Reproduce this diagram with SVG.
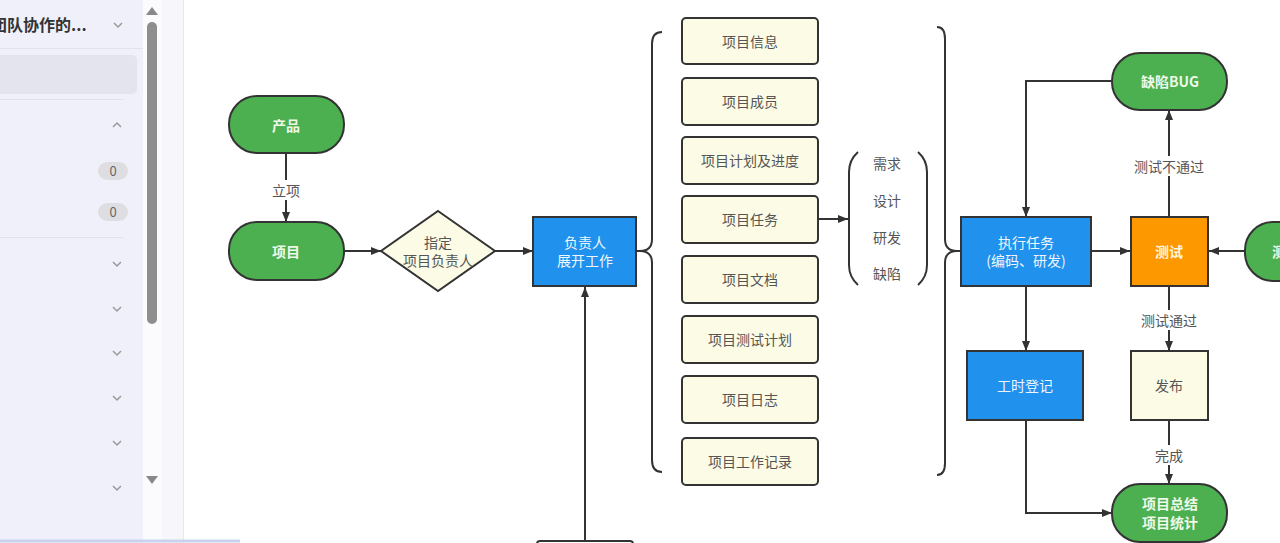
<svg xmlns="http://www.w3.org/2000/svg" width="1280" height="543" viewBox="0 0 1280 543">
<defs>
<marker id="arr" markerWidth="10" markerHeight="8" refX="10" refY="4" orient="auto" markerUnits="userSpaceOnUse">
<path d="M0,0 L10,4 L0,8 z" fill="#333"/>
</marker>
<style>
.t{font-family:"Noto Sans CJK SC","Noto Sans",sans-serif;font-size:14px;text-anchor:middle;dominant-baseline:central}
.green{fill:#4caf50;stroke:#333;stroke-width:2}
.blue{fill:#2091ec;stroke:#333;stroke-width:2}
.cream{fill:#fcfce6;stroke:#333;stroke-width:2}
.orange{fill:#fe9800;stroke:#333;stroke-width:2}
.wt{fill:#eef9e8;font-weight:bold}
.bt{fill:#eef6ff}
.dt{fill:#555}
.lbl{fill:#555}
.edge{stroke:#333;stroke-width:2;fill:none}
.brace{stroke:#333;stroke-width:2;fill:none}
.chev{stroke:#999;stroke-width:1.5;fill:none}
.sb{font-family:"Noto Sans CJK SC","Noto Sans",sans-serif}
</style>
</defs>
<rect x="0" y="0" width="1280" height="543" fill="#ffffff"/>
<g id="sidebar">
<rect x="0" y="0" width="143" height="543" fill="#f0f0fa"/>
<rect x="143" y="0" width="19" height="543" fill="#fbfbfd"/>
<rect x="162" y="0" width="21" height="543" fill="#f6f6fb"/>
<line x1="183.5" y1="0" x2="183.5" y2="543" stroke="#e6e6ee" stroke-width="1"/>
<text class="sb" x="-9" y="31" font-size="16" font-weight="bold" fill="#333">团队协作的...</text>
<path class="chev" d="M114,23 L118,27 L122,23"/>
<line x1="0" y1="48.5" x2="143" y2="48.5" stroke="#e2e2ea"/>
<rect x="-6" y="55" width="143" height="39" rx="5" fill="#e4e4ee"/>
<line x1="0" y1="99.5" x2="123" y2="99.5" stroke="#e2e2ea"/>
<path class="chev" d="M113,127 L117,123 L121,127"/>
<rect x="98" y="162" width="30" height="18" rx="9" fill="#dedee2"/>
<text class="sb" x="113" y="176" font-size="13" fill="#666" text-anchor="middle">0</text>
<rect x="98" y="203" width="30" height="18" rx="9" fill="#dedee2"/>
<text class="sb" x="113" y="217" font-size="13" fill="#666" text-anchor="middle">0</text>
<line x1="0" y1="237.5" x2="123" y2="237.5" stroke="#e2e2ea"/>
<path class="chev" d="M113,262 L117,266 L121,262"/>
<path class="chev" d="M113,307 L117,311 L121,307"/>
<path class="chev" d="M113,351 L117,355 L121,351"/>
<path class="chev" d="M113,396 L117,400 L121,396"/>
<path class="chev" d="M113,441 L117,445 L121,441"/>
<path class="chev" d="M113,486 L117,490 L121,486"/>
<path d="M146,15 L152,7 L158,15 z" fill="#888"/>
<rect x="147" y="22" width="10" height="302" rx="5" fill="#8e8e8e"/>
<path d="M146,476 L152,484 L158,476 z" fill="#888"/>
<line x1="0" y1="541" x2="240" y2="541" stroke="#c9d3ee" stroke-width="3"/>
</g>
<g id="connectors">
<path class="edge" d="M286,153 L286,222" marker-end="url(#arr)"/>
<path class="edge" d="M344,251 L381,251" marker-end="url(#arr)"/>
<path class="edge" d="M495,251 L533,251" marker-end="url(#arr)"/>
<path class="edge" d="M585,541 L585,287" marker-end="url(#arr)"/>
<path class="edge" d="M818,219 L848,219" marker-end="url(#arr)"/>
<path class="edge" d="M1091,251 L1130,251" marker-end="url(#arr)"/>
<path class="edge" d="M1245,251 L1209,251" marker-end="url(#arr)"/>
<path class="edge" d="M1169,217 L1169,110" marker-end="url(#arr)"/>
<path class="edge" d="M1112,81 L1026,81 L1026,217" marker-end="url(#arr)"/>
<path class="edge" d="M1026,286 L1026,351" marker-end="url(#arr)"/>
<path class="edge" d="M1169,286 L1169,351" marker-end="url(#arr)"/>
<path class="edge" d="M1169,420 L1169,484" marker-end="url(#arr)"/>
<path class="edge" d="M1026,420 L1026,513 L1112,513" marker-end="url(#arr)"/>
<rect x="270" y="180" width="32" height="20" fill="#fff"/>
<text class="t lbl" x="286" y="190">立项</text>
<rect x="1131" y="156" width="76" height="20" fill="#fff"/>
<text class="t lbl" x="1169" y="166">测试不通过</text>
<rect x="1139" y="310" width="60" height="20" fill="#fff"/>
<text class="t lbl" x="1169" y="320">测试通过</text>
<rect x="1153" y="445" width="32" height="20" fill="#fff"/>
<text class="t lbl" x="1169" y="455">完成</text>
<path class="brace" d="M636,251 L640,251 Q652,251 652,239 L652,44 Q652,32 662,32 M640,251 Q652,251 652,263 L652,460 Q652,472 662,472"/>
<path class="brace" d="M961,251 L957,251 Q945,251 945,239 L945,39 Q945,27 937,27 M957,251 Q945,251 945,263 L945,463 Q945,475 937,475"/>
<path class="brace" d="M858,152 Q849,160 849,172 L849,265 Q849,277 858,285"/>
<path class="brace" d="M918,152 Q927,160 927,172 L927,265 Q927,277 918,285"/>
</g>
<g id="n-product"><rect class="green" x="229" y="96" width="115" height="57" rx="28"/><text class="t wt" x="286" y="125">产品</text></g>
<g id="n-project"><rect class="green" x="229" y="222" width="115" height="58" rx="28"/><text class="t wt" x="286" y="251">项目</text></g>
<g id="n-assign"><path class="cream" d="M438,211 L495,251 L438,291 L381,251 z"/><text class="t dt" x="438" y="242">指定</text><text class="t dt" x="438" y="260">项目负责人</text></g>
<g id="n-lead"><rect class="blue" x="533" y="217" width="103" height="69"/><text class="t bt" x="585" y="242">负责人</text><text class="t bt" x="585" y="260">展开工作</text></g>
<g id="n-bottom"><rect x="537" y="541" width="96" height="30" rx="3" fill="#fff" stroke="#333" stroke-width="2"/></g>
<g id="n-info"><rect class="cream" x="682" y="18" width="136" height="46" rx="4"/><text class="t dt" x="750" y="41">项目信息</text></g>
<g id="n-members"><rect class="cream" x="682" y="78" width="136" height="47" rx="4"/><text class="t dt" x="750" y="101">项目成员</text></g>
<g id="n-plan"><rect class="cream" x="682" y="137" width="136" height="47" rx="4"/><text class="t dt" x="750" y="160">项目计划及进度</text></g>
<g id="n-task"><rect class="cream" x="682" y="196" width="136" height="47" rx="4"/><text class="t dt" x="750" y="219">项目任务</text></g>
<g id="n-doc"><rect class="cream" x="682" y="256" width="136" height="47" rx="4"/><text class="t dt" x="750" y="279">项目文档</text></g>
<g id="n-testplan"><rect class="cream" x="682" y="316" width="136" height="47" rx="4"/><text class="t dt" x="750" y="339">项目测试计划</text></g>
<g id="n-log"><rect class="cream" x="682" y="376" width="136" height="47" rx="4"/><text class="t dt" x="750" y="399">项目日志</text></g>
<g id="n-worklog"><rect class="cream" x="682" y="438" width="136" height="47" rx="4"/><text class="t dt" x="750" y="461">项目工作记录</text></g>
<g id="n-types"><text class="t dt" x="887" y="163">需求</text><text class="t dt" x="887" y="200">设计</text><text class="t dt" x="887" y="237">研发</text><text class="t dt" x="887" y="273">缺陷</text></g>
<g id="n-exec"><rect class="blue" x="961" y="217" width="130" height="69"/><text class="t bt" x="1026" y="242">执行任务</text><text class="t bt" x="1026" y="260">(编码、研发)</text></g>
<g id="n-test"><rect class="orange" x="1131" y="217" width="77" height="69"/><text class="t" x="1169" y="251" fill="#fff6e0" font-weight="bold">测试</text></g>
<g id="n-bug"><rect class="green" x="1112" y="53" width="115" height="57" rx="28"/><text class="t wt" x="1170" y="81">缺陷BUG</text></g>
<g id="n-tester"><rect class="green" x="1245" y="222" width="115" height="59" rx="28"/><text class="t wt" x="1272" y="251" style="text-anchor:start">测试</text></g>
<g id="n-hours"><rect class="blue" x="967" y="351" width="116" height="69"/><text class="t bt" x="1025" y="385">工时登记</text></g>
<g id="n-release"><rect class="cream" x="1131" y="351" width="77" height="69"/><text class="t dt" x="1169" y="385">发布</text></g>
<g id="n-summary"><rect class="green" x="1112" y="484" width="115" height="58" rx="28"/><text class="t wt" x="1170" y="503">项目总结</text><text class="t wt" x="1170" y="522">项目统计</text></g>
</svg>
